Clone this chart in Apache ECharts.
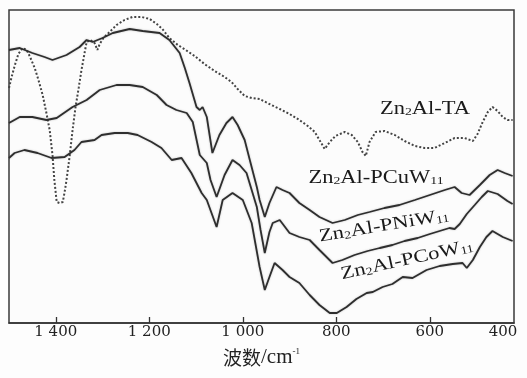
<!DOCTYPE html>
<html>
<head>
<meta charset="utf-8">
<script src="https://cdn.jsdelivr.net/npm/echarts@6/dist/echarts.min.js"></script>
<style>
  html,body{margin:0;padding:0;background:#fdfdfd;}
  #c{width:527px;height:378px;}
</style>
</head>
<body>
<div id="c"></div>
<script>
// Wavenumber (cm-1) and transmittance (arbitrary units, offset stacked)
const wnTA = [1500,1495,1488,1480,1471,1462,1454,1445,1437,1428,1420,1413,1407,1403,1398,1392,1385,1381,1377,1370,1364,1358,1351,1345,1338,1334,1326,1317,1311,1306,1298,1285,1270,1253,1236,1216,1199,1184,1172,1157,1139,1122,1103,1082,1060,1039,1024,1011,996,981,964,943,921,900,879,861,846,836,825,814,802,782,767,754,744,737,729,716,697,675,654,632,611,590,568,547,526,508,498,487,476,466,455,444,434,423];
const tTA  = [235,245,257,269,275,273,265,255,243,228,210,193,168,143,121,120,121,131,143,168,193,215,235,253,271,281,283,280,273,279,285,291,298,303,306,306,304,299,294,285,278,273,267,259,252,246,241,234,227,225,224,219,214,209,203,197,191,183,174,181,187,191,188,181,171,167,181,191,192,188,182,177,175,175,180,185,185,182,189,201,211,216,212,206,203,203];

const wnCu = [1500,1477,1450,1424,1407,1377,1349,1334,1321,1300,1278,1242,1214,1178,1157,1135,1124,1114,1099,1092,1086,1077,1065,1050,1035,1022,1011,996,985,970,964,953,943,928,915,900,879,857,836,808,782,754,729,697,665,632,600,568,547,532,515,493,472,455,440,423];
const tCu  = [273,275,270,266,263,268,276,283,281,285,290,294,292,290,283,270,255,240,216,213,216,206,170,188,200,206,198,183,163,136,123,106,120,136,133,130,120,113,106,100,103,108,111,115,118,123,128,133,136,130,128,138,148,153,150,147];

const wnNi = [1500,1477,1450,1420,1398,1364,1334,1306,1270,1242,1214,1184,1163,1142,1120,1107,1092,1077,1069,1056,1039,1022,1007,992,970,962,953,943,936,921,900,879,857,836,808,787,761,733,707,680,654,626,600,579,558,547,536,521,504,489,476,455,434,423];
const tNi  = [200,206,206,203,205,216,223,233,238,238,236,228,218,213,210,201,168,160,143,126,148,163,158,150,116,93,70,91,100,103,90,86,83,73,60,63,68,72,75,78,82,85,89,92,95,94,99,109,118,126,132,129,122,119];

const wnCo = [1500,1488,1467,1439,1409,1381,1360,1345,1317,1302,1274,1246,1225,1195,1174,1152,1131,1110,1088,1077,1056,1043,1022,1000,981,964,953,943,932,915,900,879,857,836,814,799,778,757,735,722,701,680,658,637,607,579,551,530,521,508,493,479,466,444,423];
const tCo  = [165,170,173,170,165,166,173,181,183,188,190,190,188,181,175,163,165,150,130,123,96,123,130,123,100,56,33,46,60,53,46,40,28,18,10,10,16,24,30,31,36,39,46,45,53,57,59,60,55,63,76,86,92,86,82];

const seriesNames = ['Zn2Al-TA','Zn2Al-PCuW11','Zn2Al-PNiW11','Zn2Al-PCoW11'];
const tickValues = [1400,1200,1000,800,600];
const tickLabels = ['1 400','1 200','1 000','800','600','400'];

function zip(a,b){return a.map((v,i)=>[v,b[i]]);}

const chart = echarts.init(document.getElementById('c'), null, {renderer:'canvas'});
const serif = '"Liberation Serif","Times New Roman",serif';
const lineBase = {type:'line', symbol:'none', smooth:false, animation:false,
  lineStyle:{color:'#2e2e2e', width:1.8, shadowColor:'rgba(0,0,0,0.25)', shadowBlur:2}};

chart.setOption({
  backgroundColor:'#fdfdfd',
  animation:false,
  grid:{left:9, right:13, top:10, bottom:55, show:true, borderColor:'#3a3a3a', borderWidth:1.5, backgroundColor:'#fcfcfc'},
  xAxis:{
    type:'value', inverse:true, min:420, max:1500,
    splitLine:{show:false},
    axisLine:{show:true, lineStyle:{color:'#333', width:1.5}},
    axisTick:{show:true, inside:true, length:6, customValues:tickValues, lineStyle:{color:'#333', width:1.3}},
    axisLabel:{
      customValues: tickValues.concat([420]),
      margin:2,
      color:'#222', fontFamily:'"DejaVu Serif",serif', fontSize:15,
      formatter:function(v){
        const i = tickValues.indexOf(v);
        if(i>=0) return tickLabels[i];
        return '{e|'+tickLabels[5]+'}';
      },
      rich:{e:{fontFamily:'"DejaVu Serif",serif', fontSize:15, color:'#222', padding:[0,22,0,0]}}
    },
    name:'{c|波数}{d|/cm}{s|-1}',
    nameLocation:'middle', nameGap:24,
    nameTextStyle:{
      rich:{
        c:{fontFamily:'"Noto Sans CJK SC"', fontSize:19, color:'#222'},
        d:{fontFamily:serif, fontSize:21, color:'#222'},
        s:{fontFamily:serif, fontSize:9, color:'#222', verticalAlign:'top'}
      }
    }
  },
  yAxis:{type:'value', min:0, max:313, show:false},
  series:[
    Object.assign({}, lineBase, {name:seriesNames[0], data:zip(wnTA,tTA),
      lineStyle:{color:'#444', width:2, type:[2,2]}}),
    Object.assign({}, lineBase, {name:seriesNames[1], data:zip(wnCu,tCu)}),
    Object.assign({}, lineBase, {name:seriesNames[2], data:zip(wnNi,tNi)}),
    Object.assign({}, lineBase, {name:seriesNames[3], data:zip(wnCo,tCo)})
  ],
  graphic:[
    {type:'text', x:425, y:109, scaleX:1.25, z:100,
      style:{text:'Zn{s|2}Al-TA', fontFamily:serif, fontSize:18, fill:'#1a1a1a', align:'center', verticalAlign:'middle',
        rich:{s:{fontFamily:serif, fontSize:11, fill:'#1a1a1a', verticalAlign:'bottom'}}}},
    {type:'text', x:376, y:178, scaleX:1.25, z:100,
      style:{text:'Zn{s|2}Al-PCuW{s|11}', fontFamily:serif, fontSize:18, fill:'#1a1a1a', align:'center', verticalAlign:'middle',
        rich:{s:{fontFamily:serif, fontSize:11, fill:'#1a1a1a', verticalAlign:'bottom'}}}},
    {type:'text', x:384, y:226, scaleX:1.25, rotation:9.5*Math.PI/180, z:100,
      style:{text:'Zn{s|2}Al-PNiW{s|11}', fontFamily:serif, fontSize:18, fill:'#1a1a1a', align:'center', verticalAlign:'middle',
        rich:{s:{fontFamily:serif, fontSize:11, fill:'#1a1a1a', verticalAlign:'bottom'}}}},
    {type:'text', x:407, y:260, scaleX:1.25, rotation:12.5*Math.PI/180, z:100,
      style:{text:'Zn{s|2}Al-PCoW{s|11}', fontFamily:serif, fontSize:18, fill:'#1a1a1a', align:'center', verticalAlign:'middle',
        rich:{s:{fontFamily:serif, fontSize:11, fill:'#1a1a1a', verticalAlign:'bottom'}}}}
  ]
});
</script>
</body>
</html>
